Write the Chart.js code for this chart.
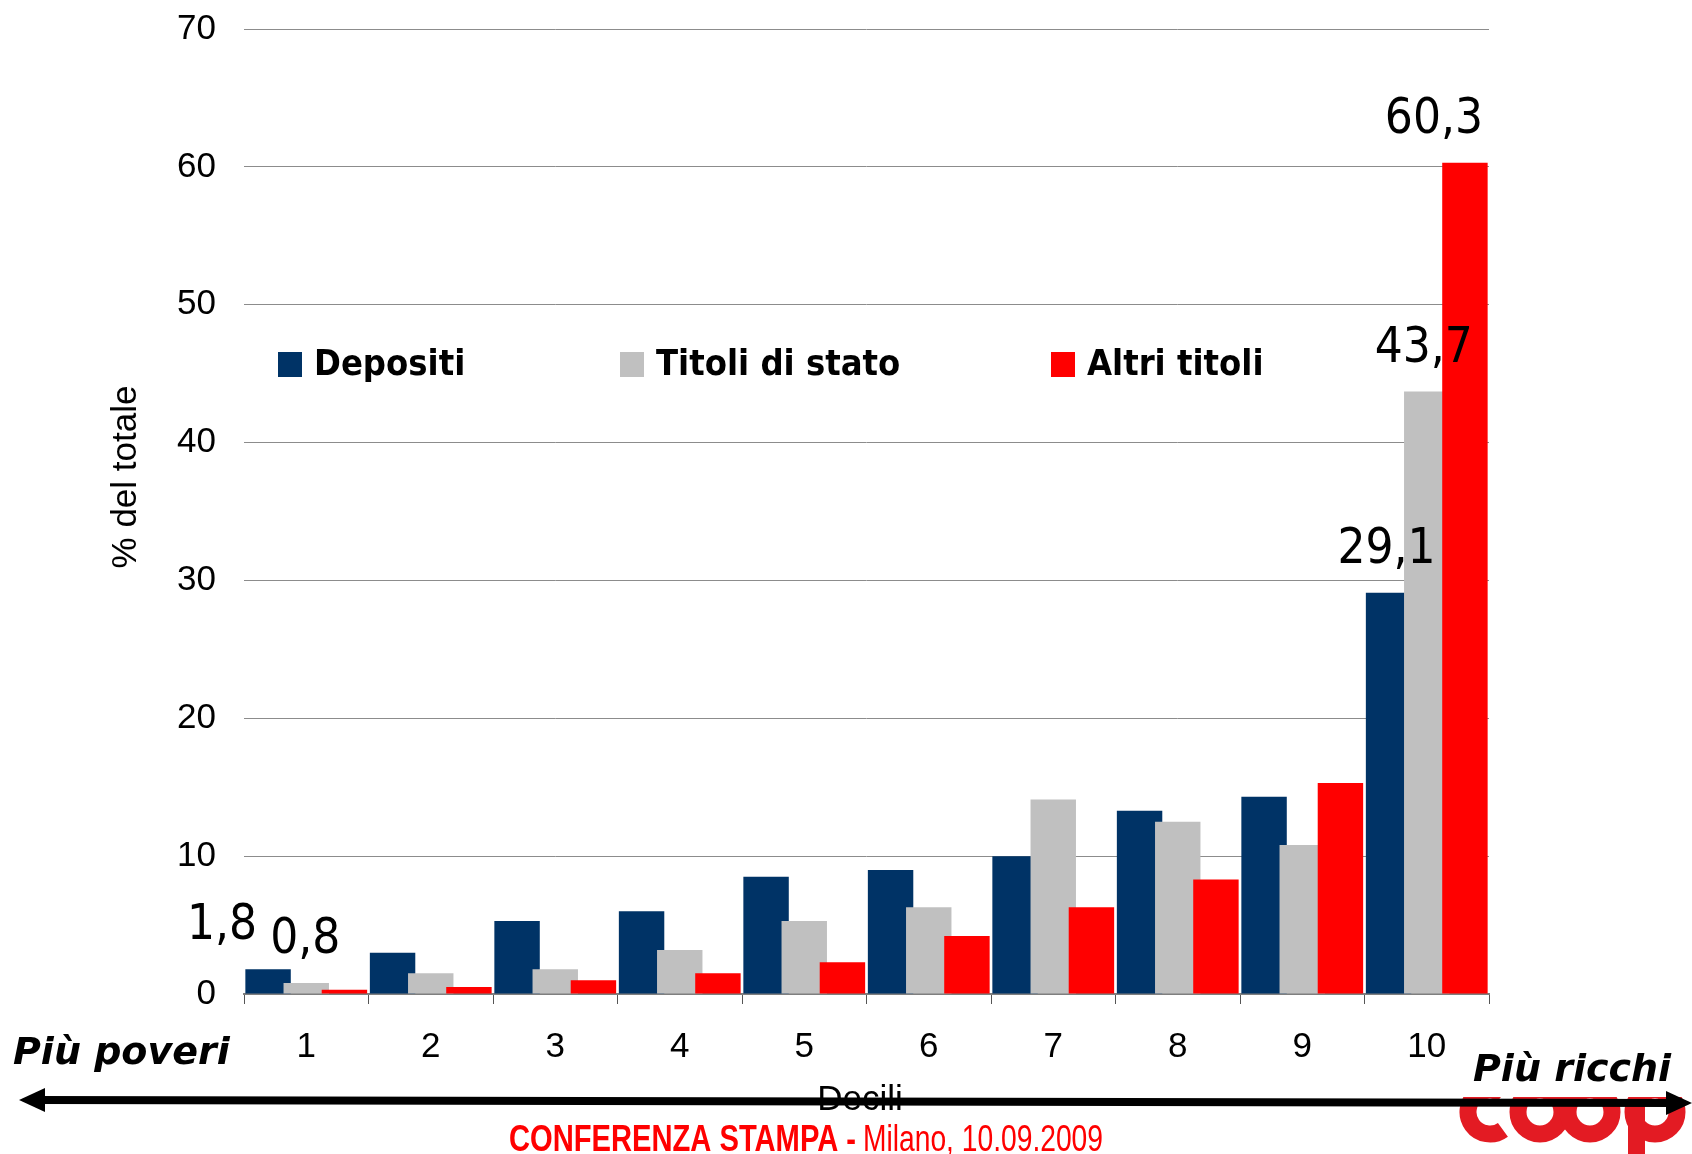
<!DOCTYPE html>
<html>
<head>
<meta charset="utf-8">
<script src="https://cdn.jsdelivr.net/npm/chart.js@4.4.1/dist/chart.umd.min.js"></script>
<style>
  body { margin: 0; background: #fff; }
  canvas { display: block; }
</style>
</head>
<body>
<canvas id="decili" width="1692" height="1154"></canvas>
<script>
var decili = ["1", "2", "3", "4", "5", "6", "7", "8", "9", "10"];
var depositi = [1.8, 3.0, 5.3, 6.0, 8.5, 9.0, 10.0, 13.3, 14.3, 29.1];
var titoliStato = [0.8, 1.5, 1.8, 3.2, 5.3, 6.3, 14.1, 12.5, 10.8, 43.7];
var altriTitoli = [0.3, 0.5, 1.0, 1.5, 2.3, 4.2, 6.3, 8.3, 15.3, 60.3];
var seriesNames = ["Depositi", "Titoli di stato", "Altri titoli"];
var seriesColors = ["#003366", "#c0c0c0", "#ff0000"];
// [series, index] of the bars with a value written above them
var labelled = [[0, 0], [1, 0], [0, 9], [1, 9], [2, 9]];

var arial = "'Liberation Sans', Arial, sans-serif";
var tahoma = "'DejaVu Sans Condensed', 'DejaVu Sans', sans-serif";

// later series sit on top of the earlier ones where the bars overlap
var drawOrder = {
  id: "drawOrder",
  beforeDatasetsDraw: function (chart) {
    chart.getSortedVisibleDatasetMetas().forEach(function (m) { m.controller.draw(); });
    return false;
  }
};

var extras = {
  id: "extras",
  afterDraw: function (chart) {
    var ctx = chart.ctx;
    ctx.save();

    // values above some bars
    ctx.fillStyle = "#000";
    ctx.font = "49px " + tahoma;
    ctx.textAlign = "center";
    ctx.textBaseline = "alphabetic";
    var shift = { "0,0": -46, "1,0": -1, "0,9": -2, "1,9": -3, "2,9": -31 };
    labelled.forEach(function (p) {
      var el = chart.getDatasetMeta(p[0]).data[p[1]];
      var v = chart.data.datasets[p[0]].data[p[1]];
      ctx.fillText(v.toFixed(1).replace(".", ","), el.x + shift[p[0] + "," + p[1]], el.y - 30);
    });

    // legend inside the plot
    var boxX = [278, 620, 1051];
    ctx.font = "bold 36px " + tahoma;
    ctx.textAlign = "left";
    seriesNames.forEach(function (name, k) {
      ctx.fillStyle = seriesColors[k];
      ctx.fillRect(boxX[k], 352, 24, 25);
      ctx.fillStyle = "#000";
      ctx.fillText(name, boxX[k] + 36, 375);
    });

    // y title
    ctx.save();
    ctx.translate(126, 477);
    ctx.rotate(-Math.PI / 2);
    ctx.font = "35px " + arial;
    ctx.textAlign = "center";
    ctx.textBaseline = "middle";
    ctx.fillText("% del totale", 0, 0);
    ctx.restore();

    // x title
    ctx.font = "35px " + arial;
    ctx.textAlign = "center";
    ctx.textBaseline = "middle";
    ctx.fillText("Decili", 860, 1100);

    // logo, cut off at the page corner
    ctx.save();
    ctx.beginPath();
    ctx.rect(1440, 1097, 252, 57);
    ctx.clip();
    ctx.strokeStyle = "#e31b23";
    ctx.fillStyle = "#e31b23";
    ctx.lineWidth = 17;
    ctx.beginPath();
    ctx.arc(1490, 1112, 22, 0.3 * Math.PI, 1.7 * Math.PI);
    ctx.stroke();
    [1540, 1590, 1655].forEach(function (cx) {
      ctx.beginPath();
      ctx.arc(cx, 1112, 22, 0, 2 * Math.PI);
      ctx.stroke();
    });
    ctx.fillRect(1628, 1100, 17, 54);
    ctx.restore();

    // double arrow
    ctx.strokeStyle = "#000";
    ctx.fillStyle = "#000";
    ctx.lineWidth = 8;
    ctx.beginPath();
    ctx.moveTo(40, 1100);
    ctx.lineTo(1670, 1103);
    ctx.stroke();
    ctx.beginPath();
    ctx.moveTo(19, 1100);
    ctx.lineTo(45, 1088);
    ctx.lineTo(45, 1112);
    ctx.closePath();
    ctx.fill();
    ctx.beginPath();
    ctx.moveTo(1692, 1103);
    ctx.lineTo(1666, 1091);
    ctx.lineTo(1666, 1115);
    ctx.closePath();
    ctx.fill();

    // ends of the axis
    ctx.font = "italic bold 38px 'DejaVu Sans', sans-serif";
    ctx.textAlign = "left";
    ctx.textBaseline = "alphabetic";
    ctx.fillText("Più poveri", 13, 1064);
    ctx.fillText("Più ricchi", 1473, 1081);

    // footer, narrow type
    ctx.fillStyle = "#ff0000";
    var parts = [["bold 37px " + arial, "CONFERENZA STAMPA -", 509, 347],
                 ["37px " + arial, "Milano, 10.09.2009", 863, 240]];
    parts.forEach(function (p) {
      ctx.font = p[0];
      var w = ctx.measureText(p[1]).width;
      ctx.save();
      ctx.translate(p[2], 1151);
      ctx.scale(p[3] / w, 1);
      ctx.fillText(p[1], 0, 0);
      ctx.restore();
    });

    ctx.restore();
  }
};

new Chart("decili", {
  type: "bar",
  data: {
    labels: decili,
    datasets: [
      { label: seriesNames[0], data: depositi, backgroundColor: seriesColors[0] },
      { label: seriesNames[1], data: titoliStato, backgroundColor: seriesColors[1] },
      { label: seriesNames[2], data: altriTitoli, backgroundColor: seriesColors[2] }
    ]
  },
  options: {
    responsive: false,
    animation: false,
    layout: { padding: { top: 29, right: 203, left: 0, bottom: 0 } },
    datasets: { bar: { categoryPercentage: 0.92, barPercentage: 1.19 } },
    plugins: {
      legend: { display: false },
      tooltip: { enabled: false }
    },
    scales: {
      x: {
        grid: { offset: true, drawOnChartArea: false, tickLength: 10, color: "#555", lineWidth: 1 },
        border: { color: "#7f7f7f", width: 2 },
        ticks: { color: "#000", padding: 22, font: { family: arial, size: 35 } },
        afterFit: function (s) { s.height = 160; s.paddingLeft = 0; s.paddingRight = 0; }
      },
      y: {
        min: 0,
        max: 70,
        ticks: { stepSize: 10, color: "#000", padding: 28, font: { family: arial, size: 35 } },
        grid: { drawTicks: false, color: "#8c8c8c", lineWidth: 1 },
        border: { display: false },
        afterFit: function (s) { s.width = 244; s.paddingTop = 0; s.paddingBottom = 0; }
      }
    }
  },
  plugins: [drawOrder, extras]
});
</script>
</body>
</html>
